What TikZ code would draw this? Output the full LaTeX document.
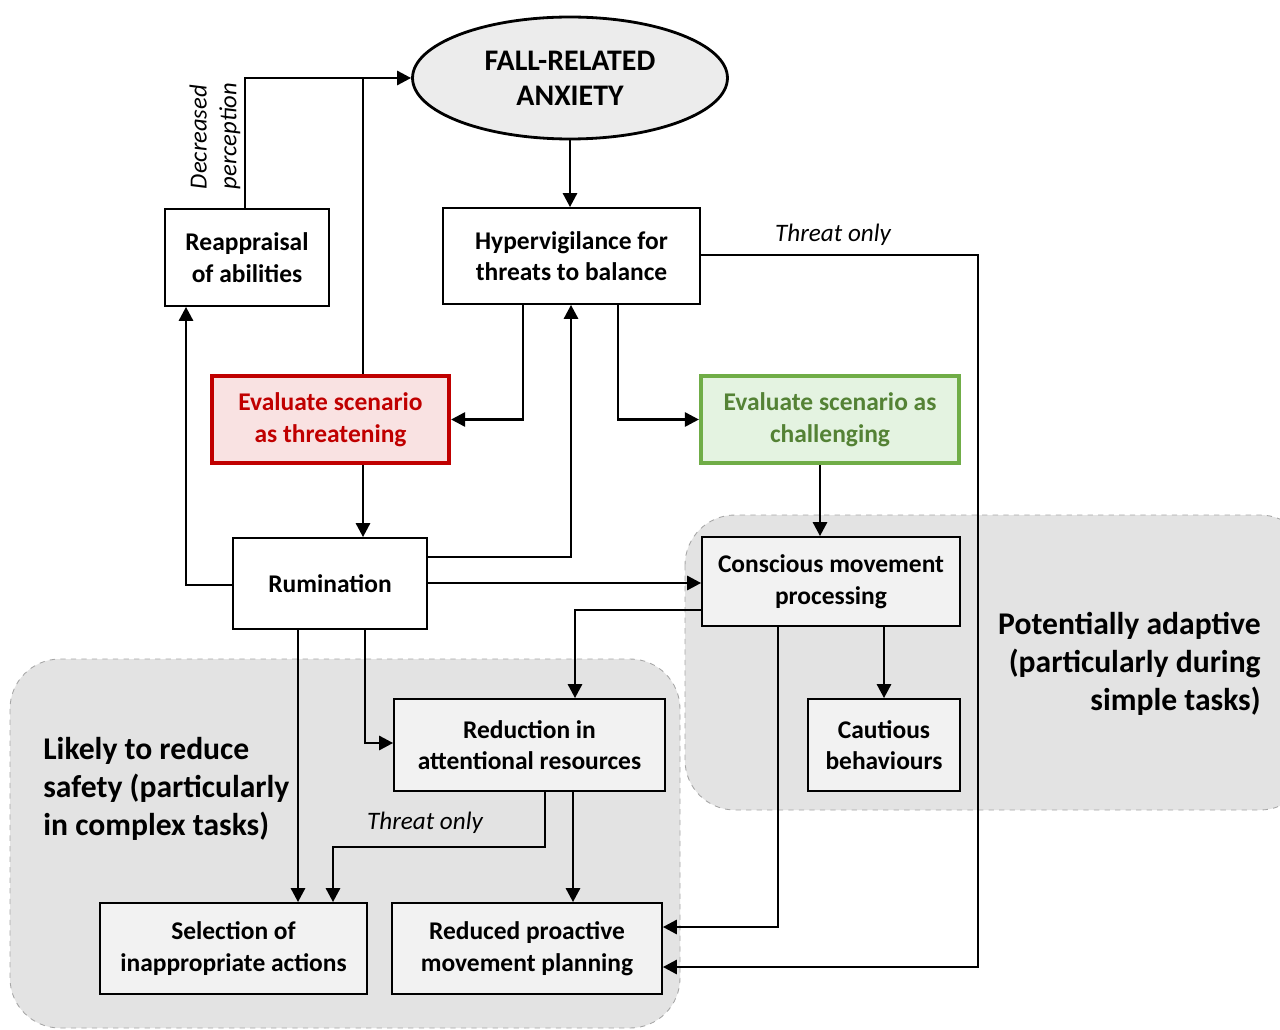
\documentclass[tikz,border=0pt]{standalone}
\usepackage{fontspec}
\setmainfont{Carlito}
\usetikzlibrary{arrows.meta,shapes.geometric}
\definecolor{regfill}{HTML}{E3E3E3}
\definecolor{regline}{HTML}{A6A6A6}
\definecolor{boxgray}{HTML}{F2F2F2}
\definecolor{anxfill}{HTML}{ECECEC}
\definecolor{thrred}{HTML}{C00000}
\definecolor{thrfill}{HTML}{F9E2E2}
\definecolor{chagreen}{HTML}{70AD47}
\definecolor{chafill}{HTML}{E4F3E1}
\definecolor{chatext}{HTML}{548235}
\tikzset{
  box/.style={draw=black, line width=1pt, fill=white, align=center, inner sep=2pt,
    font=\fontsize{14.5}{18}\selectfont\bfseries},
  graybox/.style={box, fill=boxgray},
  region/.style={draw=regline, dashed, line width=0.5pt, fill=regfill, rounded corners=1cm},
  arr/.style={line width=1.6pt, -{Triangle[length=8pt,width=8pt]}},
  conn/.style={line width=1.6pt},
  lbl/.style={font=\fontsize{14.3}{17}\selectfont\itshape, inner sep=0pt},
  regtxt/.style={font=\fontsize{18}{21.5}\selectfont\bfseries, inner sep=0pt}
}
\begin{document}
\begin{tikzpicture}[x=0.02cm,y=-0.02cm]
\useasboundingbox (0,0) rectangle (1280,1030);
% regions
\path[region] (10,659) rectangle (680,1028);
\path[region] (685,515) rectangle (1310,810);
% nodes
\node[ellipse, draw=black, line width=1.6pt, fill=anxfill, minimum width=6.3cm, minimum height=2.44cm,
  align=center, font=\fontsize{17}{19.8}\selectfont\bfseries] (anx) at (570,78) {FALL-RELATED\\ANXIETY};
\node[box, minimum width=3.28cm, minimum height=1.94cm] (reap) at (247,257.5) {Reappraisal\\of abilities};
\node[box, minimum width=5.14cm, minimum height=1.92cm] (hyp) at (571.5,256) {Hypervigilance for\\threats to balance};
\node[box, draw=thrred, line width=2.4pt, fill=thrfill, text=thrred, minimum width=4.74cm, minimum height=1.74cm] (thr) at (330.5,419.5) {Evaluate scenario\\as threatening};
\node[box, draw=chagreen, line width=2.4pt, fill=chafill, text=chatext, minimum width=5.16cm, minimum height=1.74cm] (cha) at (830,419.5) {Evaluate scenario as\\challenging};
\node[box, minimum width=3.88cm, minimum height=1.82cm] (rum) at (330,583.5) {Rumination};
\node[graybox, minimum width=5.16cm, minimum height=1.78cm] (con) at (831,581.5) {Conscious movement\\processing};
\node[graybox, minimum width=3.04cm, minimum height=1.84cm] (cau) at (884,745) {Cautious\\behaviours};
\node[graybox, minimum width=5.42cm, minimum height=1.84cm] (red) at (529.5,745) {Reduction in\\attentional resources};
\node[graybox, minimum width=5.34cm, minimum height=1.82cm] (sel) at (233.5,948.5) {Selection of\\inappropriate actions};
\node[graybox, minimum width=5.40cm, minimum height=1.82cm] (rpm) at (527,948.5) {Reduced proactive\\movement planning};
% region labels
\node[regtxt, align=left, anchor=west] (ltxt) at (43,789) {Likely to reduce\\safety (particularly\\in complex tasks)};
\node[regtxt, align=right, anchor=east] (rtxt) at (1261,664) {Potentially adaptive\\(particularly during\\simple tasks)};
% connectors
\coordinate (j1) at (363,78);
\draw[arr] (anx.south) -- (anx.south |- hyp.north);
\draw[arr] (reap.north -| 245,0) |- (anx.west);
\draw[conn] (thr.north -| 363,0) -- (j1);
\draw[arr] (hyp.south -| 523,0) |- (thr.east);
\draw[arr] (hyp.south -| 618,0) |- (cha.west);
\draw[arr] (hyp.east |- 0,255) -- (978,255) -- (978,967) -- (rpm.east |- 0,967);
\draw[arr] (thr.south -| 363,0) -- (rum.north -| 363,0);
\draw[arr] (rum.east |- 0,557) -| (hyp.south -| 571,0);
\draw[arr] (rum.west |- 0,585) -| (reap.south -| 186,0);
\draw[arr] (rum.east |- 0,583) -- (con.west |- 0,583);
\draw[arr] (cha.south -| 820,0) -- (con.north -| 820,0);
\draw[arr] (con.west |- 0,610) -| (red.north -| 575,0);
\draw[arr] (con.south -| 884,0) -- (cau.north -| 884,0);
\draw[arr] (con.south -| 778,0) |- (rpm.east |- 0,927);
\draw[arr] (rum.south -| 298,0) -- (sel.north -| 298,0);
\draw[arr] (rum.south -| 365,0) |- (red.west |- 0,743);
\draw[arr] (red.south -| 545,0) -- (545,847) -| (sel.north -| 333,0);
\draw[arr] (red.south -| 573,0) -- (rpm.north -| 573,0);
% labels
\node[lbl] (t1) at (833,235) {Threat only};
\node[lbl] (t2) at (425,823) {Threat only};
\node[lbl, rotate=90, align=left, font=\fontsize{14}{17}\selectfont\itshape] (dp) at (215,136) {Decreased\\perception};
\end{tikzpicture}
\end{document}
